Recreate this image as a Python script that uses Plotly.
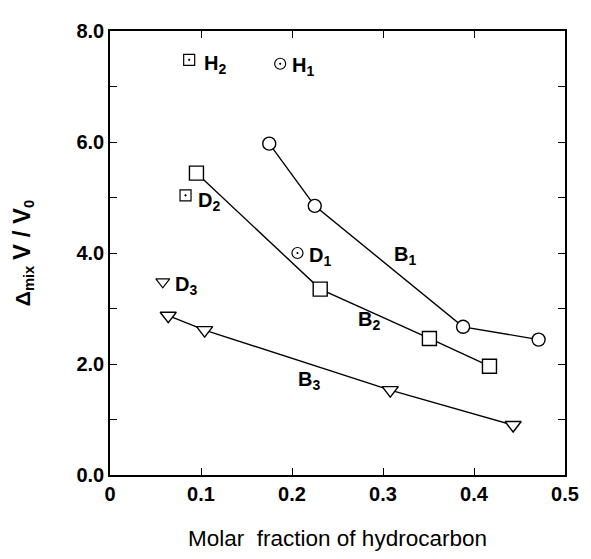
import plotly.graph_objects as go

# series B1 (circles), B2 (squares), B3 (down triangles)
b1_x = [0.175, 0.225, 0.388, 0.471]
b1_y = [5.97, 4.85, 2.67, 2.44]
b2_x = [0.095, 0.231, 0.351, 0.417]
b2_y = [5.44, 3.35, 2.46, 1.96]
b3_x = [0.064, 0.104, 0.308, 0.443]
b3_y = [2.87, 2.61, 1.53, 0.90]

# single points
h1_x, h1_y = [0.187], [7.41]
h2_x, h2_y = [0.087], [7.48]
d1_x, d1_y = [0.206], [4.00]
d2_x, d2_y = [0.083], [5.04]
d3_x, d3_y = [0.058], [3.48]

# labels: text, x, y
labels = [
    ("H<sub>2</sub>", 0.101, 7.40),
    ("H<sub>1</sub>", 0.198, 7.36),
    ("D<sub>2</sub>", 0.095, 4.93),
    ("D<sub>1</sub>", 0.216, 3.94),
    ("D<sub>3</sub>", 0.069, 3.41),
    ("B<sub>1</sub>", 0.310, 3.95),
    ("B<sub>2</sub>", 0.270, 2.78),
    ("B<sub>3</sub>", 0.204, 1.71),
]

FONT = "Liberation Sans, Arial, sans-serif"
BLACK = "#000000"

fig = go.Figure()

fig.add_trace(go.Scatter(x=b1_x, y=b1_y, mode="lines+markers",
                         line=dict(color=BLACK, width=1.4),
                         marker=dict(symbol="circle", size=13, color="white",
                                     line=dict(color=BLACK, width=1.4))))
fig.add_trace(go.Scatter(x=b2_x, y=b2_y, mode="lines+markers",
                         line=dict(color=BLACK, width=1.4),
                         marker=dict(symbol="square", size=14, color="white",
                                     line=dict(color=BLACK, width=1.4))))
fig.add_trace(go.Scatter(x=b3_x, y=b3_y, mode="lines+markers",
                         line=dict(color=BLACK, width=1.4),
                         marker=dict(symbol="triangle-down", size=14, color="white",
                                     line=dict(color=BLACK, width=1.4))))

for xs, ys, sym in [(h1_x, h1_y, "circle-open-dot"), (d1_x, d1_y, "circle-open-dot"),
                    (h2_x, h2_y, "square-open-dot"), (d2_x, d2_y, "square-open-dot"),
                    (d3_x, d3_y, "triangle-down-open")]:
    fig.add_trace(go.Scatter(x=xs, y=ys, mode="markers",
                             marker=dict(symbol=sym, size=12 if "triangle" in sym else 11,
                                         color=BLACK, line=dict(color=BLACK, width=1.2))))

for txt, x, y in labels:
    fig.add_annotation(x=x, y=y, text=txt, showarrow=False, xanchor="left", yanchor="middle",
                       font=dict(family=FONT, size=20, color=BLACK, weight="bold"))

axis_common = dict(showline=True, linecolor=BLACK, linewidth=1.5, mirror="ticks",
                   ticks="inside", tickcolor=BLACK, ticklen=7, tickwidth=1.2,
                   showgrid=False, zeroline=False,
                   tickfont=dict(family=FONT, size=20, color=BLACK, weight="bold"))

fig.update_xaxes(range=[0, 0.5], tickvals=[0, 0.1, 0.2, 0.3, 0.4, 0.5],
                 ticktext=["0", "0.1", "0.2", "0.3", "0.4", "0.5"],
                 title=dict(text="Molar\u00a0 fraction of hydrocarbon", standoff=26,
                            font=dict(family=FONT, size=22.5, color=BLACK)),
                 **axis_common)
fig.update_yaxes(range=[0, 8], tickvals=[0, 2, 4, 6, 8],
                 ticktext=["0.0", "2.0", "4.0", "6.0", "8.0"],
                 minor=dict(tickvals=[1, 3, 5, 7], ticks="inside", ticklen=7,
                            tickcolor=BLACK, tickwidth=1.2),
                 title=dict(text="Δ<sub>mix</sub> <span style='font-size:24px'>V / V</span><sub>0</sub>",
                            standoff=42,
                            font=dict(family=FONT, size=21, color=BLACK, weight="bold")),
                 **axis_common)

# page body adds an 8px margin, so the figure is 8px smaller and shifted
fig.update_layout(width=583, height=551, showlegend=False,
                  plot_bgcolor="white", paper_bgcolor="white",
                  margin=dict(l=102, r=16, t=13, b=71))

fig.write_html("out.html")
